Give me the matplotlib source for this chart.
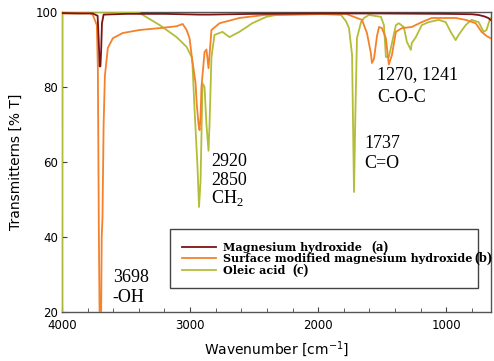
import numpy as np
import matplotlib
matplotlib.use("Agg")
import matplotlib.pyplot as plt

# wavenumber (cm-1) / transmittance (%)
mg_wn = [4000, 3850, 3760, 3722, 3714, 3706, 3700, 3694, 3688, 3675, 3500, 3200,
         2930, 2850, 2500, 2000, 1500, 1000, 800, 747, 700, 672, 654]
mg_t = [99.7, 99.6, 99.6, 99.0, 93.0, 85.5, 85.5, 90.0, 97.0, 99.3, 99.5, 99.5,
        99.3, 99.3, 99.5, 99.6, 99.6, 99.5, 99.4, 99.2, 98.8, 98.4, 97.9]

smh_wn = [4000, 3900, 3782, 3759, 3728, 3720, 3712, 3704, 3696, 3690, 3684, 3675,
          3665, 3642, 3603, 3525, 3393, 3237, 3105, 3058, 3027, 3004, 2988, 2957,
          2949, 2934, 2926, 2918, 2911, 2887, 2872, 2856, 2833, 2770, 2615, 2420,
          2000, 1782, 1697, 1658, 1619, 1588, 1580, 1564, 1541, 1525, 1502, 1471,
          1448, 1424, 1393, 1346, 1269, 1191, 1113, 926, 848, 770, 724, 685, 669, 654]
smh_t = [99.6, 99.6, 99.7, 99.2, 96.5, 85.0, 40.0, 10.0, 12.0, 40.0, 45.0, 70.0,
         83.0, 90.4, 93.0, 94.4, 95.2, 95.7, 96.2, 96.8, 95.2, 93.0, 88.5, 81.0,
         76.0, 70.0, 68.5, 72.0, 80.0, 89.3, 90.0, 85.0, 95.2, 97.0, 98.4, 99.2,
         99.4, 99.5, 98.4, 97.9, 94.4, 89.0, 86.4, 87.5, 93.5, 96.0, 95.7, 93.0,
         86.0, 88.5, 94.7, 95.7, 96.0, 97.3, 98.4, 98.4, 97.9, 97.0, 94.7, 93.6, 93.3, 93.0]

oa_wn = [4000, 3998, 3600, 3393, 3237, 3105, 3027, 2988, 2981, 2965, 2942, 2930,
         2918, 2903, 2887, 2872, 2856, 2848, 2833, 2809, 2747, 2693, 2615, 2514,
         2405, 2327, 2000, 1821, 1782, 1759, 1735, 1720, 1708, 1697, 1665, 1642,
         1603, 1510, 1486, 1471, 1448, 1432, 1393, 1370, 1331, 1307, 1276, 1269,
         1237, 1191, 1136, 1058, 1004, 965, 926, 903, 848, 802, 747, 708, 685, 669, 654]
oa_t = [15.0, 100.0, 100.0, 99.7, 96.5, 93.3, 90.7, 88.0, 85.9, 74.0, 58.7, 48.0,
        55.0, 81.0, 80.0, 70.0, 63.0, 70.0, 88.0, 93.9, 94.7, 93.3, 94.7, 97.0,
        98.7, 99.2, 99.5, 99.2, 97.5, 95.7, 88.5, 52.0, 75.0, 93.0, 97.3, 98.4,
        99.2, 98.7, 96.5, 88.0, 88.0, 90.4, 96.5, 97.0, 96.0, 92.0, 89.9, 91.7,
        93.3, 96.5, 97.3, 97.9, 97.3, 94.7, 92.5, 93.9, 96.5, 97.9, 97.3, 94.7, 95.2, 97.0, 98.4]

labels = ["Magnesium hydroxide", "Surface modified magnesium hydroxide", "Oleic acid"]
tags = ["(a)", "(b)", "(c)"]
colors = ["#7d1414", "#f5812a", "#b3bd38"]

fig = plt.figure(figsize=(4.94, 3.61), dpi=100)
ax = fig.add_axes([0.1255, 0.1357, 0.8685, 0.8311])

l3, = ax.plot(oa_wn, oa_t, color=colors[2], lw=1.3, zorder=3)
l2, = ax.plot(smh_wn, smh_t, color=colors[1], lw=1.3, zorder=4)
l1, = ax.plot(mg_wn, mg_t, color=colors[0], lw=1.3, zorder=5)

ax.set_xlim(4000, 650)
ax.set_ylim(20, 100)
ax.set_xticks([4000, 3000, 2000, 1000])
ax.set_xticks(np.arange(800, 4000, 200), minor=True)
ax.set_yticks([20, 40, 60, 80, 100])
ax.tick_params(which="both", direction="in", labelsize=8.5, color="#444444")
ax.tick_params(axis="x", pad=5)
ax.tick_params(axis="y", pad=3)
ax.tick_params(which="major", length=3.5)
ax.tick_params(which="minor", length=3)
for s in ax.spines.values():
    s.set_color("#555555")
    s.set_linewidth(1.0)

ax.set_xlabel("Wavenumber [cm$^{\\mathregular{-1}}$]", fontsize=10, labelpad=5)
ax.set_ylabel("Transmitterns [% T]", fontsize=10, labelpad=9)

leg = ax.legend([l1, l2, l3], labels, loc="lower left",
                bbox_to_anchor=(0.252, 0.08, 0.718, 0.2), mode="expand",
                borderaxespad=0,
                prop={"family": "DejaVu Serif", "weight": "bold", "size": 8},
                handlelength=3.0, handletextpad=0.7, labelspacing=0.05,
                borderpad=1.1, fancybox=False, framealpha=1)
leg.get_frame().set_edgecolor("#444444")
leg.get_frame().set_linewidth(1.0)
leg.set_zorder(8)

# (a), (b), (c) follow the legend texts
fig.canvas.draw()
tag_gap = [9, 2, 7]  # pixels after each legend text
inv = ax.transAxes.inverted()
for t, gap, lt in zip(tags, tag_gap, leg.get_texts()):
    bb = lt.get_window_extent()
    tx, ty = inv.transform((bb.x1 + gap, (bb.y0 + bb.y1) / 2))
    ax.text(tx, ty, t, transform=ax.transAxes, ha="left", va="center",
            family="Liberation Serif", weight="bold", fontsize=10.5, zorder=10)

# peak annotations
serif = dict(family="Liberation Serif", fontsize=13, ha="left", va="center")
ax.text(3603, 29.3, "3698", **serif)
ax.text(3603, 24.0, "-OH", **serif)
ax.text(2833, 60.0, "2920", **serif)
ax.text(2833, 55.2, "2850", **serif)
ax.text(2833, 50.4, "CH$_\\mathregular{2}$", **serif)
ax.text(1642, 65.0, "1737", **serif)
ax.text(1642, 59.7, "C=O", **serif)
ax.text(1541, 83.2, "1270, 1241", **serif)
ax.text(1541, 77.3, "C-O-C", **serif)

fig.savefig("out.png", dpi=100)
